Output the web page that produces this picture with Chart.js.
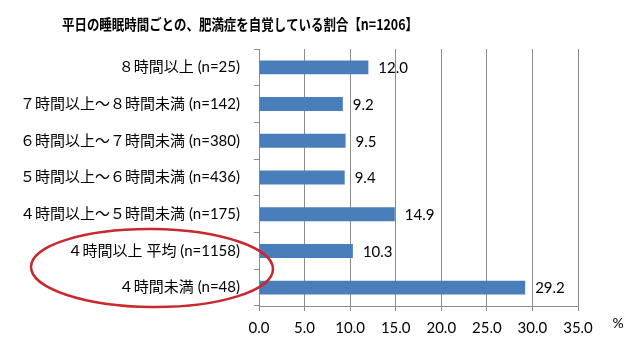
<!DOCTYPE html>
<html><head><meta charset="utf-8">
<script src="https://cdn.jsdelivr.net/npm/chart.js@4/dist/chart.umd.min.js"></script>
<style>html,body{margin:0;padding:0;background:#fff}#wrap{width:640px;height:346px}</style>
</head><body><div id="wrap"><canvas id="c" width="640" height="346"></canvas></div>
<script>
const titleText = "平日の睡眠時間ごとの、肥満症を自覚している割合【n=1206】";
const categories = [
  "８時間以上 (n=25)",
  "７時間以上～８時間未満 (n=142)",
  "６時間以上～７時間未満 (n=380)",
  "５時間以上～６時間未満 (n=436)",
  "４時間以上～５時間未満 (n=175)",
  "４時間以上 平均 (n=1158)",
  "４時間未満 (n=48)"
];
const values = [12.0, 9.2, 9.5, 9.4, 14.9, 10.3, 29.2];
const xTickValues = [0, 5, 10, 15, 20, 25, 30, 35];
const unitLabel = "%";

const LATIN = "Lato, 'Noto Sans CJK JP', sans-serif";
const GRID = "#8c8c8c";

const overlay = {
  id: 'overlay',
  afterDatasetsDraw(chart) {
    const ctx = chart.ctx;
    const meta = chart.getDatasetMeta(0);
    ctx.save();
    ctx.fillStyle = '#000';
    ctx.font = "15px " + LATIN;
    ctx.textAlign = 'left';
    ctx.textBaseline = 'middle';
    meta.data.forEach((bar, i) => {
      ctx.fillText(values[i].toFixed(1), bar.x + 10, bar.y + 1);
    });
    ctx.restore();
  },
  afterDraw(chart) {
    const ctx = chart.ctx;
    ctx.save();
    ctx.fillStyle = '#000';
    ctx.font = "bold 15px 'Noto Sans CJK JP', sans-serif";
    ctx.textBaseline = 'middle';
    ctx.textAlign = 'left';
    const w = ctx.measureText(titleText).width;
    const target = 356;
    ctx.translate(62, 24);
    ctx.scale(target / w, 1);
    ctx.fillText(titleText, 0, 0);
    ctx.restore();
    ctx.save();
    ctx.fillStyle = '#000';
    ctx.font = "14px " + LATIN;
    ctx.textAlign = 'center';
    ctx.textBaseline = 'middle';
    ctx.fillText(unitLabel, 618, 323);
    ctx.restore();
    ctx.save();
    ctx.strokeStyle = '#c8282e';
    ctx.lineWidth = 2.5;
    ctx.beginPath();
    ctx.ellipse(152, 268, 121, 39, 0.01, 0, Math.PI * 2);
    ctx.stroke();
    ctx.restore();
  }
};

new Chart(document.getElementById('c'), {
  type: 'bar',
  data: {
    labels: categories,
    datasets: [{
      data: values,
      backgroundColor: '#4a7ebb',
      borderColor: '#4a7ebb',
      borderWidth: 0,
      barPercentage: 0.76,
      categoryPercentage: 0.5
    }]
  },
  options: {
    indexAxis: 'y',
    responsive: false,
    animation: false,
    devicePixelRatio: 1,
    layout: { padding: { left: 0, right: 62, top: 49, bottom: 0 } },
    plugins: { legend: { display: false }, title: { display: false }, tooltip: { enabled: false } },
    scales: {
      x: {
        min: 0, max: 35,
        afterBuildTicks(scale) { scale.ticks = xTickValues.map(v => ({ value: v })); },
        afterFit(scale) { scale.height = 40; },
        grid: { color: GRID, lineWidth: 1, tickLength: 5, drawTicks: true },
        border: { color: GRID, width: 1 },
        ticks: {
          padding: 8,
          color: '#000',
          font: { family: LATIN, size: 15 },
          callback: (v) => Number(v).toFixed(1)
        }
      },
      y: {
        afterFit(scale) { scale.width = 259; },
        grid: { drawOnChartArea: false, drawTicks: true, tickLength: 5, color: GRID, offset: true },
        border: { color: GRID, width: 1 },
        ticks: {
          padding: 14,
          color: '#000',
          font: { family: LATIN, size: 15 }
        }
      }
    }
  },
  plugins: [overlay]
});
</script>
</body></html>
